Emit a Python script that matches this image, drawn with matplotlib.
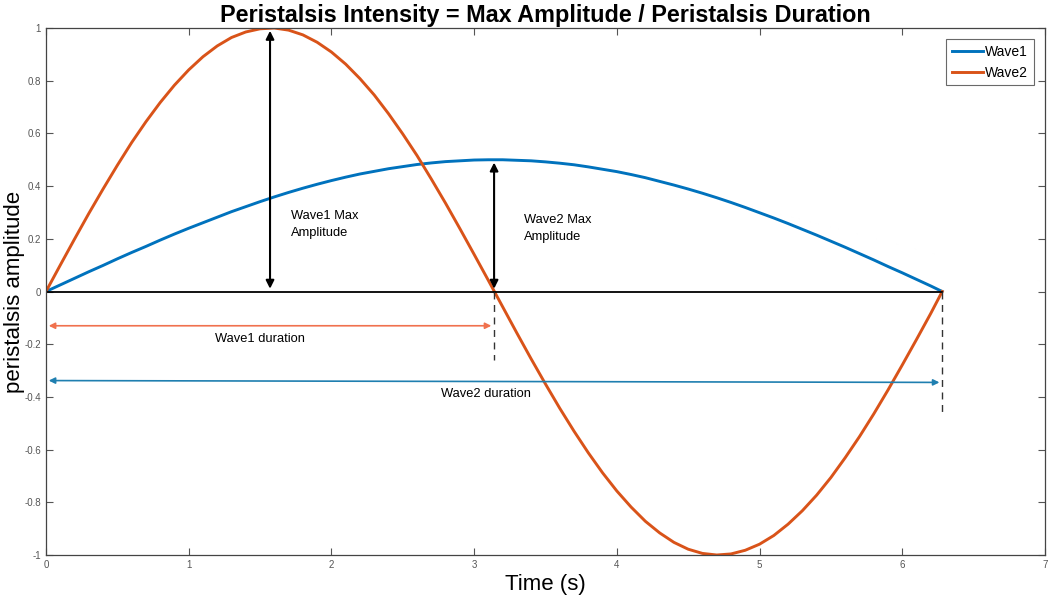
import matplotlib.pyplot as plt

plt.rcParams['font.family'] = ['Liberation Sans', 'DejaVu Sans']

# values
t = [0, 0.1, 0.2, 0.3, 0.4, 0.5, 0.6, 0.7, 0.8, 0.9, 1.0, 1.1, 1.2, 1.3, 1.4, 1.5,
     1.6, 1.7, 1.8, 1.9, 2.0, 2.1, 2.2, 2.3, 2.4, 2.5, 2.6, 2.7, 2.8, 2.9, 3.0, 3.1,
     3.2, 3.3, 3.4, 3.5, 3.6, 3.7, 3.8, 3.9, 4.0, 4.1, 4.2, 4.3, 4.4, 4.5, 4.6, 4.7,
     4.8, 4.9, 5.0, 5.1, 5.2, 5.3, 5.4, 5.5, 5.6, 5.7, 5.8, 5.9, 6.0, 6.1, 6.2, 6.28]
wave1 = [0, 0.025, 0.050, 0.075, 0.099, 0.124, 0.148, 0.171, 0.195, 0.218, 0.240, 0.261,
         0.282, 0.303, 0.322, 0.341, 0.359, 0.376, 0.392, 0.407, 0.421, 0.434, 0.446, 0.456,
         0.466, 0.474, 0.482, 0.488, 0.493, 0.496, 0.499, 0.500, 0.500, 0.498, 0.496, 0.492,
         0.487, 0.481, 0.473, 0.464, 0.455, 0.444, 0.432, 0.418, 0.404, 0.389, 0.373, 0.356,
         0.338, 0.319, 0.299, 0.279, 0.258, 0.236, 0.214, 0.191, 0.168, 0.144, 0.120, 0.095,
         0.071, 0.046, 0.021, 0.0]
wave2 = [0, 0.100, 0.199, 0.296, 0.389, 0.479, 0.565, 0.644, 0.717, 0.783, 0.841, 0.891,
         0.932, 0.964, 0.985, 0.997, 1.000, 0.992, 0.974, 0.946, 0.909, 0.863, 0.808, 0.746,
         0.675, 0.598, 0.516, 0.427, 0.335, 0.239, 0.141, 0.042, -0.058, -0.158, -0.256,
         -0.351, -0.443, -0.530, -0.612, -0.688, -0.757, -0.818, -0.872, -0.916, -0.952,
         -0.978, -0.994, -1.000, -0.996, -0.982, -0.959, -0.926, -0.883, -0.832, -0.773,
         -0.706, -0.631, -0.551, -0.465, -0.374, -0.279, -0.182, -0.083, 0.0]

peak1_x, peak1_y = 1.57, 1.0
peak2_x, peak2_y = 3.14, 0.5
dur1_end, dur2_end = 3.14, 6.28

fig = plt.figure(figsize=(10.52, 6), dpi=100)
ax = fig.add_axes([0.0437, 0.075, 0.9496, 0.8783])

ax.plot(t, wave1, color='#0072BD', lw=2.1, label='Wave1')
ax.plot(t, wave2, color='#D95319', lw=2.1, label='Wave2')
ax.plot([0, dur2_end], [0, 0], color='black', lw=1.3)

# max amplitude arrows
ax.annotate('', xy=(peak1_x, peak1_y), xytext=(peak1_x, 0),
            arrowprops=dict(arrowstyle='<|-|>', color='black', lw=1.5, mutation_scale=12))
ax.annotate('', xy=(peak2_x, peak2_y), xytext=(peak2_x, 0),
            arrowprops=dict(arrowstyle='<|-|>', color='black', lw=1.5, mutation_scale=12))
ax.text(1.72, 0.255, 'Wave1 Max\nAmplitude', fontsize=9.3, va='center', linespacing=1.5)
ax.text(3.35, 0.24, 'Wave2 Max\nAmplitude', fontsize=9.3, va='center', linespacing=1.5)

# duration arrows
ax.annotate('', xy=(dur1_end, -0.13), xytext=(0, -0.13),
            arrowprops=dict(arrowstyle='<|-|>', color='#F0714E', lw=1.2, mutation_scale=9))
ax.annotate('', xy=(dur2_end, -0.345), xytext=(0, -0.338),
            arrowprops=dict(arrowstyle='<|-|>', color='#1F7FB0', lw=1.2, mutation_scale=9))
ax.text(1.5, -0.18, 'Wave1 duration', fontsize=9.3, ha='center', va='center')
ax.text(3.08, -0.39, 'Wave2 duration', fontsize=9.3, ha='center', va='center')
ax.plot([dur1_end, dur1_end], [0, -0.26], color='#333333', lw=1, ls=(0, (5, 4)))
ax.plot([dur2_end, dur2_end], [0, -0.46], color='#333333', lw=1, ls=(0, (5, 4)))

ax.set_xlim(0, 7)
ax.set_ylim(-1, 1)
ax.set_xticks(range(0, 8))
ax.set_yticks([-1, -0.8, -0.6, -0.4, -0.2, 0, 0.2, 0.4, 0.6, 0.8, 1])
ax.set_yticklabels(['-1', '-0.8', '-0.6', '-0.4', '-0.2', '0', '0.2', '0.4', '0.6', '0.8', '1'])
ax.tick_params(direction='in', top=True, right=True, labelsize=7, colors='#555555',
               length=5, width=0.8)
for s in ax.spines.values():
    s.set_color('#444444')
    s.set_linewidth(0.9)

ax.set_title('Peristalsis Intensity = Max Amplitude / Peristalsis Duration',
             fontsize=16.8, fontweight='bold', pad=4)
ax.set_xlabel('Time (s)', fontsize=16, labelpad=3)
ax.set_ylabel('peristalsis amplitude', fontsize=16)
ax.yaxis.set_label_coords(-0.021, 0.5)

leg = ax.legend(loc='upper right', fontsize=10, fancybox=False, edgecolor='#444444',
                handlelength=2.2, handletextpad=0.2, borderaxespad=0.8)
leg.get_frame().set_linewidth(0.8)

fig.savefig('out.png', dpi=100)
